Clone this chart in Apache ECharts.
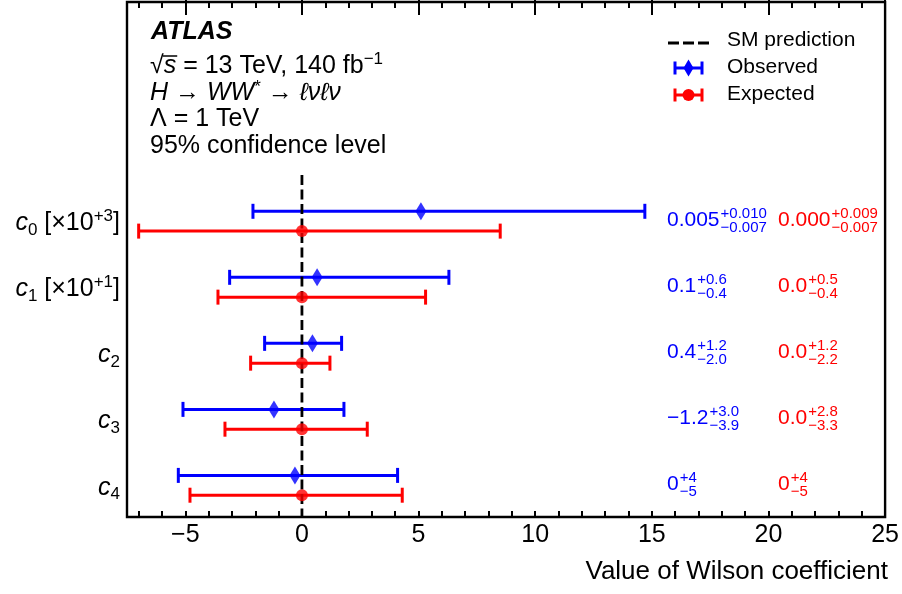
<!DOCTYPE html>
<html>
<head>
<meta charset="utf-8">
<script src="https://cdn.jsdelivr.net/npm/echarts@6/dist/echarts.min.js"></script>
<style>html,body{margin:0;padding:0;background:#fff;}#c{width:902px;height:594px;}</style>
</head>
<body>
<div id="c"></div>
<script>
// ---- data ----
var coefSub = ['0', '1', '2', '3', '4'];
var coefScale = ['+3', '+1', '', '', ''];
var rowY = [3.32, 4.32, 5.32, 6.32, 7.32];
var obsCentral = [5.1, 0.65, 0.45, -1.2, -0.3];
var obsLow = [-2.1, -3.1, -1.6, -5.1, -5.3];
var obsHigh = [14.7, 6.3, 1.7, 1.8, 4.1];
var expCentral = [0, 0, 0, 0, 0];
var expLow = [-7.0, -3.6, -2.2, -3.3, -4.8];
var expHigh = [8.5, 5.3, 1.2, 2.8, 4.3];
var obsVal = ['0.005', '0.1', '0.4', '\u22121.2', '0'];
var obsUp = ['+0.010', '+0.6', '+1.2', '+3.0', '+4'];
var obsDn = ['\u22120.007', '\u22120.4', '\u22122.0', '\u22123.9', '\u22125'];
var expVal = ['0.000', '0.0', '0.0', '0.0', '0'];
var expUp = ['+0.009', '+0.5', '+1.2', '+2.8', '+4'];
var expDn = ['\u22120.007', '\u22120.4', '\u22122.2', '\u22123.3', '\u22125'];
var majorTicks = [-5, 0, 5, 10, 15, 20, 25];
var smValue = 0;
var smSpan = [2.62, 7.8];

var FONT = '"Liberation Sans", Arial, Helvetica, sans-serif';
var BLUE = '#0000ff', RED = '#ff0000';
var XMIN = -7.5, XMAX = 25, YMAX = 7.8, OFF = 0.15;

var minorTicks = [];
for (var v = -7; v <= 25; v++) minorTicks.push(v);

var mctx = document.createElement('canvas').getContext('2d');
function fontStr(p) {
  return (p.italic ? 'italic ' : 'normal ') + (p.bold ? 'bold ' : 'normal ') + p.size + 'px ' + FONT;
}
function tw(p) { mctx.font = fontStr(p); return mctx.measureText(p.t).width; }

// pieces: {t,size,italic,bold,dy}
function runText(x, baseline, pieces, align, color, defSize) {
  var ps = pieces.map(function (p) {
    return {t: p.t, size: p.size || defSize, italic: !!p.italic, bold: !!p.bold, dy: p.dy || 0};
  });
  var total = 0, widths = [];
  ps.forEach(function (p) { var w = tw(p); widths.push(w); total += w; });
  var cx = align === 'right' ? x - total : x;
  var out = [];
  ps.forEach(function (p, i) {
    out.push({
      type: 'text', silent: true, z: 100,
      x: cx, y: baseline + p.dy - 0.35 * p.size,
      style: {
        text: p.t, fill: color, font: fontStr(p),
        textAlign: 'left', textVerticalAlign: 'middle', align: 'left', verticalAlign: 'middle'
      }
    });
    p.x0 = cx; p.w = widths[i];
    cx += widths[i];
  });
  out.meta = ps;
  return out;
}

function barRender(color) {
  return function (params, api) {
    var a = api.coord([api.value(0), api.value(2)]);
    var b = api.coord([api.value(1), api.value(2)]);
    var h = 7.5;
    var st = {stroke: color, lineWidth: 3};
    return {
      type: 'group',
      children: [
        {type: 'line', shape: {x1: a[0], y1: a[1], x2: b[0], y2: b[1]}, style: st},
        {type: 'line', shape: {x1: a[0], y1: a[1] - h, x2: a[0], y2: a[1] + h}, style: st},
        {type: 'line', shape: {x1: b[0], y1: b[1] - h, x2: b[0], y2: b[1] + h}, style: st}
      ]
    };
  };
}

var obsBars = [], expBars = [], obsPts = [], expPts = [];
for (var i = 0; i < rowY.length; i++) {
  obsBars.push([obsLow[i], obsHigh[i], rowY[i] - OFF]);
  expBars.push([expLow[i], expHigh[i], rowY[i] + OFF]);
  obsPts.push([obsCentral[i], rowY[i] - OFF]);
  expPts.push([expCentral[i], rowY[i] + OFF]);
}

function xAx(pos, values, len, labels) {
  return {
    type: 'value', position: pos, min: XMIN, max: XMAX, gridIndex: 0,
    axisLine: {show: false},
    splitLine: {show: false},
    axisTick: {show: true, inside: true, length: len, customValues: values,
      lineStyle: {color: '#000', width: 2}},
    axisLabel: labels ? {
      show: true, customValues: values, fontSize: 25, fontFamily: FONT, color: '#000', margin: 6,
      formatter: function (v) { return v < 0 ? '\u2212' + Math.abs(v) : String(v); }
    } : {show: false}
  };
}

var chart = echarts.init(document.getElementById('c'), null, {renderer: 'canvas'});
chart.setOption({
  animation: false,
  backgroundColor: '#fff',
  grid: {left: 127, right: 13, top: 2, bottom: 77, show: true, borderColor: '#000', borderWidth: 2.4, backgroundColor: 'transparent'},
  xAxis: [
    xAx('bottom', majorTicks, 12, true),
    xAx('bottom', minorTicks, 6, false),
    xAx('top', majorTicks, 13, false),
    xAx('top', minorTicks, 6, false)
  ],
  yAxis: [{type: 'value', min: 0, max: YMAX, inverse: true, show: false}],
  series: [
    {type: 'custom', name: 'obsbar', renderItem: barRender(BLUE), data: obsBars,
      encode: {x: [0, 1], y: 2}, clip: false, z: 2},
    {type: 'custom', name: 'expbar', renderItem: barRender(RED), data: expBars,
      encode: {x: [0, 1], y: 2}, clip: false, z: 2},
    {type: 'line', name: 'SM', data: [[smValue, smSpan[0]], [smValue, smSpan[1]]], symbol: 'none',
      lineStyle: {color: '#000', width: 2.8, type: [10, 4.5]}, z: 3},
    {type: 'scatter', name: 'Observed', data: obsPts, symbol: 'diamond', symbolSize: [11, 18],
      itemStyle: {color: BLUE}, z: 4},
    {type: 'scatter', name: 'Expected', data: expPts, symbol: 'circle', symbolSize: 12,
      itemStyle: {color: RED}, z: 4}
  ]
});

// ---- annotations ----
var g = [];
function add(arr) { arr.forEach(function (e) { g.push(e); }); return arr; }

// ATLAS block
add(runText(151, 41, [{t: 'ATLAS', bold: true, italic: true}], 'left', '#000', 25));
var l2 = add(runText(150, 75, [{t: '\u221A'}, {t: 's', italic: true}, {t: ' = 13 TeV, 140 fb'}, {t: '\u22121', size: 17, dy: -10}], 'left', '#000', 25));
var sp = l2.meta;
g.push({type: 'line', silent: true, z: 100,
  shape: {x1: sp[0].x0 + sp[0].w - 1, y1: 75 - 19, x2: sp[1].x0 + sp[1].w + 1, y2: 75 - 19},
  style: {stroke: '#000', lineWidth: 1.5}});
add(runText(150, 102, [{t: 'H', italic: true}, {t: ' \u2192 '}, {t: 'WW', italic: true}, {t: '*', size: 17, dy: -9}, {t: ' \u2192 '}, {t: '\u2113\u03BD\u2113\u03BD', italic: true}], 'left', '#000', 25));
add(runText(150, 128, [{t: '\u039B = 1 TeV'}], 'left', '#000', 25));
add(runText(150, 155, [{t: '95% confidence level'}], 'left', '#000', 25));

// legend
g.push({type: 'line', silent: true, z: 100, shape: {x1: 668, y1: 43, x2: 711, y2: 43},
  style: {stroke: '#000', lineWidth: 2.8, lineDash: [11, 4]}});
function legBar(yc, color, marker) {
  var st = {stroke: color, lineWidth: 3};
  g.push({type: 'line', silent: true, z: 100, shape: {x1: 675, y1: yc, x2: 702, y2: yc}, style: st});
  g.push({type: 'line', silent: true, z: 100, shape: {x1: 675, y1: yc - 6.5, x2: 675, y2: yc + 6.5}, style: st});
  g.push({type: 'line', silent: true, z: 100, shape: {x1: 702, y1: yc - 6.5, x2: 702, y2: yc + 6.5}, style: st});
  if (marker === 'diamond') {
    g.push({type: 'polygon', silent: true, z: 101, shape: {points: [[688.5, yc - 8.5], [693.5, yc], [688.5, yc + 8.5], [683.5, yc]]}, style: {fill: color}});
  } else {
    g.push({type: 'circle', silent: true, z: 101, shape: {cx: 688.5, cy: yc, r: 6}, style: {fill: color}});
  }
}
legBar(68, BLUE, 'diamond');
legBar(95, RED, 'circle');
add(runText(727, 48, [{t: 'SM prediction'}], 'left', '#000', 21));
add(runText(727, 75, [{t: 'Observed'}], 'left', '#000', 21));
add(runText(727, 102, [{t: 'Expected'}], 'left', '#000', 21));

// row labels & values
for (var r = 0; r < rowY.length; r++) {
  var cy = chart.convertToPixel({xAxisIndex: 0, yAxisIndex: 0}, [0, rowY[r]])[1];
  var lp = [{t: 'c', italic: true}, {t: coefSub[r], size: 17, dy: 4}];
  if (coefScale[r]) {
    lp.push({t: ' [\u00D710'}); lp.push({t: coefScale[r], size: 17, dy: -10}); lp.push({t: ']'});
  }
  add(runText(120, cy + 11, lp, 'right', '#000', 25));

  [[667, obsVal, obsUp, obsDn, BLUE], [778, expVal, expUp, expDn, RED]].forEach(function (col) {
    var m = runText(col[0], cy + 6.5, [{t: col[1][r]}], 'left', col[4], 21);
    add(m);
    var xs = m.meta[0].x0 + m.meta[0].w + 1;
    add(runText(xs, cy - 2.5, [{t: col[2][r]}], 'left', col[4], 15));
    add(runText(xs, cy + 11.5, [{t: col[3][r]}], 'left', col[4], 15));
  });
}

// axis title
add(runText(888, 581, [{t: 'Value of Wilson coefficient'}], 'right', '#000', 26));

chart.setOption({graphic: g});
</script>
</body>
</html>
